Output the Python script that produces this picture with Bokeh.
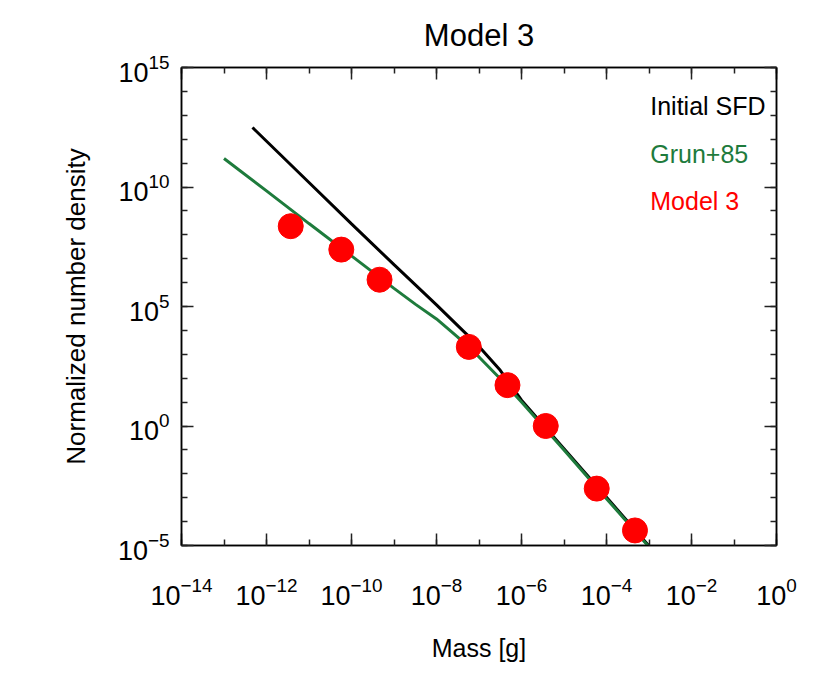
from bokeh.plotting import figure
from bokeh.models import FixedTicker, LogAxis, Label, LogTickFormatter
from bokeh.embed import file_html
from bokeh.resources import INLINE

FONT = "Liberation Sans"

# Data (log10 values)
initial_logm = [-12.33, -11.0, -10.0, -9.0, -8.0, -7.0, -6.5, -6.0, -5.0, -4.0, -3.0]
initial_logn = [12.49, 10.19, 8.46, 6.75, 5.07, 3.33, 2.33, 1.08, -0.95, -2.98, -5.02]

grun_logm = [-13.0, -12.0, -11.0, -10.0, -9.0, -8.5, -8.0, -7.5, -7.0, -6.5, -6.0, -5.0, -4.0, -3.0]
grun_logn = [11.19, 9.84, 8.47, 7.12, 5.76, 5.10, 4.48, 3.72, 2.89, 1.98, 1.00, -1.00, -3.04, -5.06]

model_logm = [-11.43, -10.24, -9.34, -7.24, -6.33, -5.43, -4.23, -3.33]
model_logn = [8.36, 7.38, 6.12, 3.31, 1.71, 0.00, -2.62, -4.37]

x_major = [-14, -12, -10, -8, -6, -4, -2, 0]
x_minor = list(range(-14, 1))
y_major = [-5, 0, 5, 10, 15]
y_minor = list(range(-5, 16))

GREEN = "#1e7b3c"

p = figure(width=822, height=673, x_axis_type="log", y_axis_type="log",
           x_range=(1e-14, 1e0), y_range=(1e-5, 1e15),
           output_backend="svg", toolbar_location=None,
           min_border_left=181, min_border_right=46, min_border_top=67, min_border_bottom=128,
           title="Model 3")
p.title.align = "center"
p.title.text_font = FONT
p.title.text_font_size = "31px"
p.title.text_font_style = "normal"
p.title.text_color = "black"
p.title.standoff = 29
p.grid.visible = False
p.outline_line_color = "black"
p.outline_line_width = 1.5

p.line([10 ** v for v in initial_logm], [10 ** v for v in initial_logn], line_color="black", line_width=3)
p.line([10 ** v for v in grun_logm], [10 ** v for v in grun_logn], line_color=GREEN, line_width=3)
p.scatter([10 ** v for v in model_logm], [10 ** v for v in model_logn], size=25,
          fill_color="#ff0000", line_color="#ff0000")

def style(ax, labels=True):
    ax.axis_line_color = "black"
    ax.axis_line_width = 1.5
    ax.major_tick_in = 12
    ax.major_tick_out = 0
    ax.minor_tick_in = 6
    ax.minor_tick_out = 0
    ax.major_tick_line_color = "#222222"
    ax.minor_tick_line_color = "#222222"
    ax.major_tick_line_width = 1.5
    ax.minor_tick_line_width = 1.5
    ax.major_label_text_font = FONT
    ax.major_label_text_font_size = "27px"
    ax.major_label_text_color = "black"
    ax.axis_label_text_font = FONT
    ax.axis_label_text_font_size = "25px"
    ax.axis_label_text_font_style = "normal"
    ax.axis_label_text_color = "black"
    if not labels:
        ax.major_label_text_font_size = "1px"
        ax.major_label_text_color = None
        ax.major_label_standoff = 0

xa = p.xaxis[0]
xa.ticker = FixedTicker(ticks=[10.0 ** k for k in x_major], minor_ticks=[10.0 ** k for k in x_minor])
xa.formatter = LogTickFormatter()
style(xa)
xa.axis_label = "Mass [g]"
xa.major_label_standoff = 31
xa.axis_label_standoff = 26

ya = p.yaxis[0]
ya.ticker = FixedTicker(ticks=[10.0 ** k for k in y_major], minor_ticks=[10.0 ** k for k in y_minor])
ya.formatter = LogTickFormatter()
style(ya)
ya.axis_label = "Normalized number density"
ya.axis_label_text_font_size = "26px"
ya.major_label_standoff = 12
ya.axis_label_standoff = 24

top = LogAxis(ticker=FixedTicker(ticks=[10.0 ** k for k in x_major], minor_ticks=[10.0 ** k for k in x_minor]))
style(top, labels=False)
p.add_layout(top, "above")
right = LogAxis(ticker=FixedTicker(ticks=[10.0 ** k for k in y_major], minor_ticks=[10.0 ** k for k in y_minor]))
style(right, labels=False)
p.add_layout(right, "right")

legend_texts = ["Initial SFD", "Grun+85", "Model 3"]
legend_colors = ["black", GREEN, "#ff0000"]
legend_logy = [13.38, 11.36, 9.40]
for t, c, ly in zip(legend_texts, legend_colors, legend_logy):
    p.add_layout(Label(x=10 ** -2.97, y=10 ** ly, text=t, text_color=c, text_font=FONT,
                       text_font_size="25px", text_baseline="alphabetic", text_align="left"))

open("out.html", "w").write(file_html(p, INLINE))
